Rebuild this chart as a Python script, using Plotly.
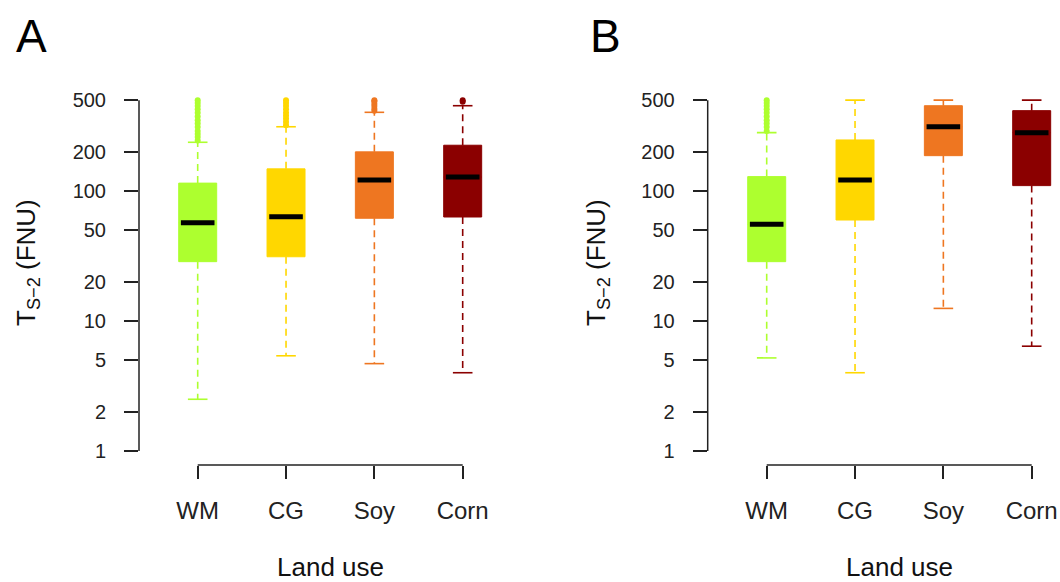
import plotly.graph_objects as go

# ---------------- data ----------------
categories = ["WM", "CG", "Soy", "Corn"]
colors = ["#ADFF2F", "#FFD700", "#EE7621", "#8B0000"]

# Panel A
A_q1 = [28.6, 31.2, 61.7, 63.1]
A_median = [57.0, 63.4, 121.5, 128.0]
A_q3 = [115.0, 148.0, 200.0, 225.0]
A_lower = [2.5, 5.4, 4.7, 4.0]
A_upper = [237.0, 312.0, 403.0, 453.0]
A_out_WM = [245, 260, 275, 290, 310, 330, 350, 375, 400, 425, 450, 475, 500]
A_out_CG = [320, 340, 360, 380, 400, 425, 450, 475, 500]
A_out_Soy = [415, 430, 450, 470, 490, 500]
A_out_Corn = [485, 500]

# Panel B
B_q1 = [28.6, 59.8, 187.0, 110.0]
B_median = [55.4, 121.5, 312.0, 281.0]
B_q3 = [129.0, 247.0, 453.0, 415.0]
B_lower = [5.2, 4.0, 12.5, 6.4]
B_upper = [281.0, 500.0, 500.0, 500.0]
B_out_WM = [290, 310, 330, 350, 375, 400, 425, 450, 475, 500]
B_out_CG = []
B_out_Soy = []
B_out_Corn = []

y_ticks = [1, 2, 5, 10, 20, 50, 100, 200, 500]
panel_labels = ["A", "B"]
y_title = "T<sub>S\u22122</sub> (FNU)"
x_title = "Land use"

# ---------------- layout helpers ----------------
W, H = 1060, 582
FONT = "Liberation Sans, Arial, Helvetica, sans-serif"
AX = "#222222"


def px(p):
    return p / W


def py(p):
    return 1 - p / H


panels = [
    dict(xa="x", ya="y", q1=A_q1, med=A_median, q3=A_q3, lo=A_lower, up=A_upper,
         outs=[A_out_WM, A_out_CG, A_out_Soy, A_out_Corn]),
    dict(xa="x2", ya="y2", q1=B_q1, med=B_median, q3=B_q3, lo=B_lower, up=B_upper,
         outs=[B_out_WM, B_out_CG, B_out_Soy, B_out_Corn]),
]

fig = go.Figure()

for p in panels:
    # whiskers (dashed)
    for i, c in enumerate(categories):
        fig.add_trace(go.Scatter(
            x=[c, c, None, c, c],
            y=[p["q3"][i], p["up"][i], None, p["q1"][i], p["lo"][i]],
            mode="lines", line=dict(color=colors[i], width=1.6, dash="7px,5px"),
            xaxis=p["xa"], yaxis=p["ya"], showlegend=False, hoverinfo="skip"))
    # outliers
    ox, oy, oc = [], [], []
    for i, c in enumerate(categories):
        for v in p["outs"][i]:
            ox.append(c)
            oy.append(v)
            oc.append(colors[i])
    if ox:
        fig.add_trace(go.Scatter(
            x=ox, y=oy, mode="markers",
            marker=dict(symbol="circle", size=6, color=oc, line=dict(width=0)),
            xaxis=p["xa"], yaxis=p["ya"], showlegend=False, hoverinfo="skip"))
    # box bodies
    for i, c in enumerate(categories):
        fig.add_trace(go.Box(
            x=[c], q1=[p["q1"][i]], median=[p["med"][i]], q3=[p["q3"][i]],
            lowerfence=[p["q1"][i]], upperfence=[p["q3"][i]],
            fillcolor=colors[i], line=dict(color=colors[i], width=1),
            width=0.43, whiskerwidth=0, boxpoints=False,
            xaxis=p["xa"], yaxis=p["ya"], showlegend=False, hoverinfo="skip"))
    # whisker caps
    fig.add_trace(go.Scatter(
        x=categories + categories, y=p["lo"] + p["up"], mode="markers",
        marker=dict(symbol="line-ew", size=14,
                    line=dict(color=colors + colors, width=1.6)),
        xaxis=p["xa"], yaxis=p["ya"], showlegend=False, hoverinfo="skip"))
    # medians
    fig.add_trace(go.Scatter(
        x=categories, y=p["med"], mode="markers",
        marker=dict(symbol="line-ew", size=24, line=dict(color="black", width=5)),
        xaxis=p["xa"], yaxis=p["ya"], showlegend=False, hoverinfo="skip"))

# axes geometry (pixels)
y_top, y_bot = 88, 465
per_dec = 130.0
one_px = 451
y_range = [(one_px - y_bot) / per_dec, (one_px - y_top) / per_dec]
spacing = 88.33
panel_geo = [
    dict(axis_px=139.0, first=197.7, right=520.0, title_x=28, label_x=31),
    dict(axis_px=707.7, first=766.7, right=1060.0, title_x=598, label_x=605),
]

xaxis_common = dict(
    type="category", categoryorder="array", categoryarray=categories,
    showgrid=False, zeroline=False, showline=False,
    ticks="outside", ticklen=13, tickwidth=1.5, tickcolor=AX,
    tickfont=dict(family=FONT, size=24, color=AX), ticklabelstandoff=11,
    fixedrange=True,
)
yaxis_common = dict(
    type="log", range=y_range, showgrid=False, zeroline=False, showline=False,
    tickvals=y_ticks, ticktext=[str(v) for v in y_ticks],
    ticks="outside", ticklen=14, tickwidth=1.5, tickcolor=AX,
    tickfont=dict(family=FONT, size=20, color=AX), ticklabelstandoff=14,
    domain=[py(y_bot), py(y_top)], fixedrange=True,
)

layout_axes = {}
shapes = []
annotations = []
for k, g in enumerate(panel_geo):
    sfx = "" if k == 0 else str(k + 1)
    lo = -(g["first"] - g["axis_px"]) / spacing
    hi = 3 + (g["right"] - (g["first"] + 3 * spacing)) / spacing
    layout_axes["xaxis" + sfx] = dict(xaxis_common, domain=[px(g["axis_px"]), px(g["right"])],
                                      range=[lo, hi], anchor="y" + sfx)
    layout_axes["yaxis" + sfx] = dict(yaxis_common, anchor="x" + sfx)
    # R-style axis lines spanning only the tick range
    shapes.append(dict(type="line", xref="x" + sfx + " domain", x0=0, x1=0,
                       yref="y" + sfx, y0=y_ticks[0], y1=y_ticks[-1],
                       line=dict(color=AX, width=1.5)))
    shapes.append(dict(type="line", xref="x" + sfx, x0=categories[0], x1=categories[-1],
                       yref="y" + sfx + " domain", y0=0, y1=0,
                       line=dict(color=AX, width=1.5)))
    centre_x = g["first"] + 1.5 * spacing
    annotations.append(dict(text=x_title, x=px(centre_x), y=py(567), xref="paper", yref="paper",
                            showarrow=False, xanchor="center", yanchor="middle",
                            font=dict(family=FONT, size=26, color="#111111")))
    annotations.append(dict(text=y_title, x=px(g["title_x"]), y=py(263),
                            xref="paper", yref="paper", textangle=-90,
                            showarrow=False, xanchor="center", yanchor="middle",
                            font=dict(family=FONT, size=26, color="#111111")))
    annotations.append(dict(text=panel_labels[k], x=px(g["label_x"]), y=py(36),
                            xref="paper", yref="paper", showarrow=False,
                            xanchor="center", yanchor="middle",
                            font=dict(family=FONT, size=46, color="#000000")))

fig.update_layout(
    width=W, height=H, margin=dict(l=0, r=0, t=0, b=0),
    paper_bgcolor="white", plot_bgcolor="white",
    boxmode="overlay", showlegend=False,
    shapes=shapes, annotations=annotations,
    **layout_axes,
)

fig.write_html(
    "out.html",
    config={"displayModeBar": False},
    post_script="document.body.style.margin='0';document.body.style.overflow='hidden';",
)
